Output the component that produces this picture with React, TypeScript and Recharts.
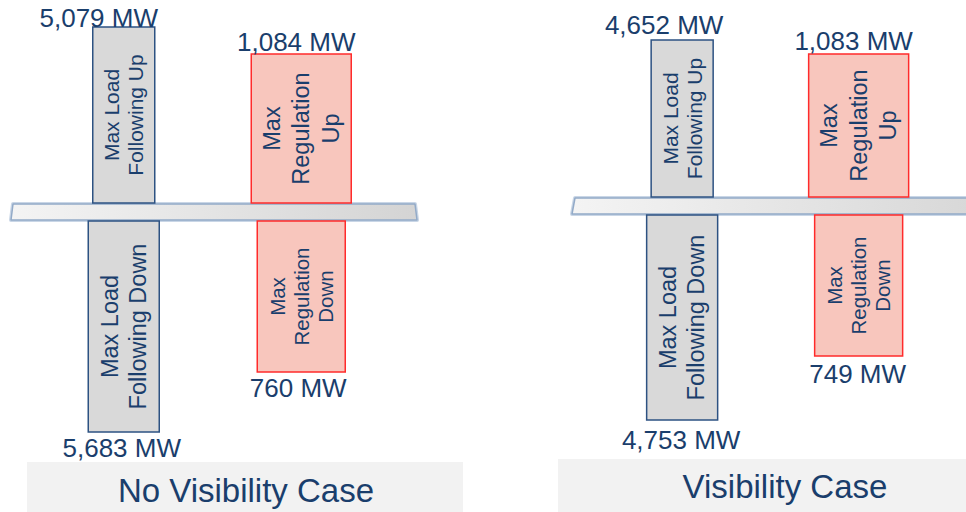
import { Bar, BarChart, ReferenceArea, XAxis, YAxis } from "recharts";

// categories and cases
const categories = ["Load Following", "Regulation"];
const captions = ["No Visibility Case", "Visibility Case"];

// MW values shown on the diagram
const noVisUpMW = [5079, 1084];
const noVisDownMW = [5683, 760];
const visUpMW = [4652, 1083];
const visDownMW = [4753, 749];

// schematic bar lengths measured from the shelf (the drawing is not to scale)
const noVisUp = [185, 158];
const noVisDown = [-220, -160];
const visUp = [166, 152];
const visDown = [-214, -150];

const upText = [["Max Load", "Following Up"], ["Max", "Regulation", "Up"]];
const downText = [["Max Load", "Following Down"], ["Max", "Regulation", "Down"]];

const NAVY = "#1a3e6c";
const FONT = "'Liberation Sans', Arial, sans-serif";
const GAP = 9; // bar end to shelf centre

const upWidth = [62, 100];
const downWidth = [71, 88];
const upFont = [21, 23.5];
const upLine = [24, 29.5];
const downFont = [23.5, 20.5];
const downLine = [28, 24];
const upFill = ["#d9d9d9", "#f8c6bd"];
const upStroke = ["#2d5282", "#ff2b2b"];

type PanelCfg = {
  left: number;
  width: number;
  mL: number;
  mR: number;
  domain: [number, number];
  upDx: number[];
  upDy: number[];
  downDx: number[];
  downDy: number[];
  shelf: [number, number, number, number]; // tl, bl, tr, br offsets from plot edges
};

const panelCfg: PanelCfg[] = [
  {
    left: 0,
    width: 480,
    mL: 35,
    mR: 90,
    domain: [-300, 212],
    upDx: [-25, -5],
    upDy: [0, -3],
    downDx: [-2, -3],
    downDy: [25, 25],
    shelf: [-22, -24, 25, 27],
  },
  {
    left: 480,
    width: 486,
    mL: 114,
    mR: 19,
    domain: [-306, 206],
    upDx: [-18, -5],
    upDy: [-6, -4],
    downDx: [-1, -1],
    downDy: [29, 27],
    shelf: [-19, -22, 80, 80],
  },
];

const fmt = (v: number) => `${v.toLocaleString("en-US")} MW`;

function makeShape(dir: 1 | -1, cfg: PanelCfg) {
  return (props: any) => {
    const { x, y, width, height, index, payload } = props;
    const top = Math.min(y, y + height);
    const bot = Math.max(y, y + height);
    const cx = x + width / 2;
    const w = dir > 0 ? upWidth[index] : downWidth[index];
    const y1 = dir > 0 ? top : top + GAP;
    const y2 = dir > 0 ? bot - GAP : bot;
    const fill = upFill[index];
    const stroke = upStroke[index];
    const lines = dir > 0 ? upText[index] : downText[index];
    const fs = dir > 0 ? upFont[index] : downFont[index];
    const lh = dir > 0 ? upLine[index] : downLine[index];
    const cy = (y1 + y2) / 2;
    const mw = dir > 0 ? payload.upMW : payload.downMW;
    const lx = cx + (dir > 0 ? cfg.upDx[index] : cfg.downDx[index]);
    const ly = dir > 0 ? y1 + cfg.upDy[index] : y2 + cfg.downDy[index];
    return (
      <g>
        <rect x={cx - w / 2} y={y1} width={w} height={y2 - y1} fill={fill} stroke={stroke} strokeWidth={1.5} />
        <g transform={`translate(${cx},${cy}) rotate(-90)`}>
          {lines.map((t, i) => (
            <text
              key={i}
              x={0}
              y={(i - (lines.length - 1) / 2) * lh}
              textAnchor="middle"
              dominantBaseline="central"
              fontSize={fs}
              fontFamily={FONT}
              fill={NAVY}
            >
              {t}
            </text>
          ))}
        </g>
        <text x={lx} y={ly} textAnchor="middle" fontSize={26} fontFamily={FONT} fill={NAVY}>
          {fmt(mw)}
        </text>
      </g>
    );
  };
}

function Panel({ idx, up, down, upMW, downMW }: { idx: number; up: number[]; down: number[]; upMW: number[]; downMW: number[] }) {
  const cfg = panelCfg[idx];
  const data = categories.map((name, i) => ({
    name,
    up: up[i],
    down: down[i],
    upMW: upMW[i],
    downMW: downMW[i],
  }));
  const gid = `shelf${idx}`;
  const shelfShape = (p: any) => {
    const { x, y, width, height } = p;
    const [tl, bl, tr, br] = cfg.shelf;
    const r = x + width;
    const pts = `${x + tl},${y} ${r + tr},${y} ${r + br},${y + height} ${x + bl},${y + height}`;
    return (
      <g>
        <defs>
          <linearGradient id={gid} x1="0" y1="0" x2="1" y2="0">
            <stop offset="0%" stopColor="#f4f4f4" />
            <stop offset="100%" stopColor="#d4d4d4" />
          </linearGradient>
        </defs>
        <polygon points={pts} fill="none" stroke="#c9d6e6" strokeWidth={4} strokeLinejoin="round" />
        <polygon points={pts} fill={`url(#${gid})`} stroke="#92aac8" strokeWidth={1.5} strokeLinejoin="round" />
      </g>
    );
  };
  return (
    <div style={{ position: "absolute", left: cfg.left, top: 0 }}>
      <BarChart
        width={cfg.width}
        height={512}
        data={data}
        stackOffset="sign"
        barCategoryGap="10%"
        margin={{ top: 0, bottom: 0, left: cfg.mL, right: cfg.mR }}
      >
        <XAxis dataKey="name" hide />
        <YAxis type="number" domain={cfg.domain} hide allowDataOverflow />
        <Bar dataKey="up" stackId="s" isAnimationActive={false} shape={makeShape(1, cfg)} />
        <Bar dataKey="down" stackId="s" isAnimationActive={false} shape={makeShape(-1, cfg)} />
        <ReferenceArea y1={-8} y2={8} ifOverflow="visible" shape={shelfShape} />
      </BarChart>
    </div>
  );
}

export default function App() {
  return (
    <div
      style={{
        position: "fixed",
        left: 0,
        top: 0,
        width: 966,
        height: 512,
        overflow: "hidden",
        background: "#ffffff",
      }}
    >
      <svg width={966} height={512} style={{ position: "absolute", left: 0, top: 0 }}>
        <rect x={27} y={462} width={436} height={50} fill="#f2f2f2" />
        <text x={246} y={502} textAnchor="middle" fontSize={33} fontFamily={FONT} fill={NAVY}>
          {captions[0]}
        </text>
        <rect x={558} y={459} width={408} height={53} fill="#f2f2f2" />
        <text x={785} y={498} textAnchor="middle" fontSize={33} fontFamily={FONT} fill={NAVY}>
          {captions[1]}
        </text>
      </svg>
      <Panel idx={0} up={noVisUp} down={noVisDown} upMW={noVisUpMW} downMW={noVisDownMW} />
      <Panel idx={1} up={visUp} down={visDown} upMW={visUpMW} downMW={visDownMW} />
    </div>
  );
}
